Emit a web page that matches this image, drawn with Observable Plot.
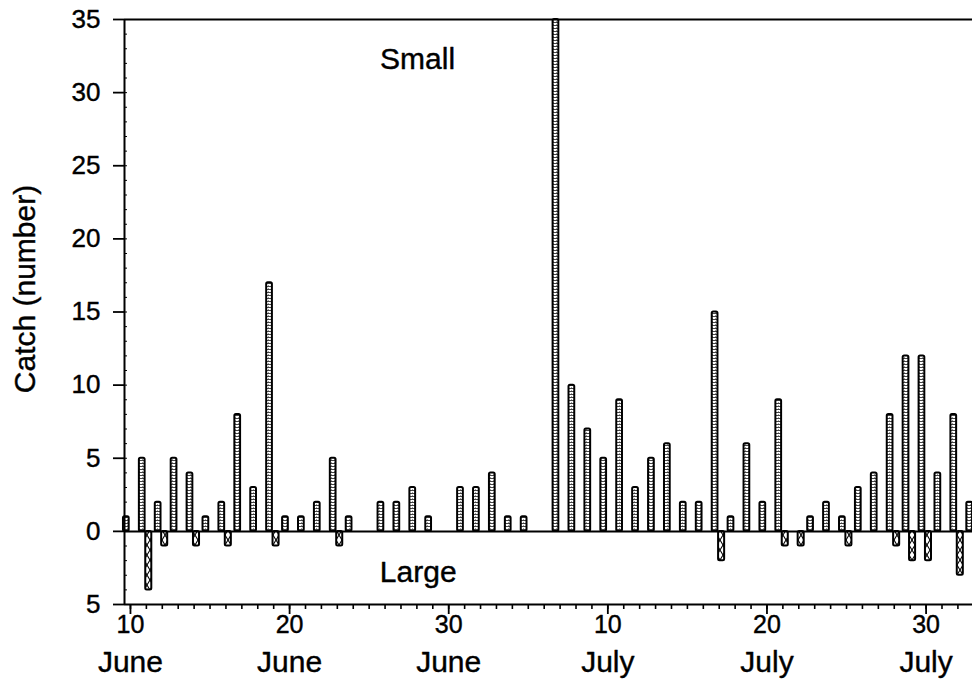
<!DOCTYPE html>
<html><head><meta charset="utf-8">
<script src="https://cdn.jsdelivr.net/npm/d3@7"></script>
<script src="https://cdn.jsdelivr.net/npm/@observablehq/plot@0.6"></script>
<style>html,body{margin:0;padding:0;background:#fff}svg{display:block}</style>
</head><body><div id="chart"></div>
<script>
// Small fish catch (bars upward)
const smallDates = ["1990-06-10","1990-06-11","1990-06-12","1990-06-13","1990-06-14","1990-06-15","1990-06-16","1990-06-17","1990-06-18","1990-06-19","1990-06-20","1990-06-21","1990-06-22","1990-06-23","1990-06-24","1990-06-26","1990-06-27","1990-06-28","1990-06-29","1990-07-01","1990-07-02","1990-07-03","1990-07-04","1990-07-05","1990-07-07","1990-07-08","1990-07-09","1990-07-10","1990-07-11","1990-07-12","1990-07-13","1990-07-14","1990-07-15","1990-07-16","1990-07-17","1990-07-18","1990-07-19","1990-07-20","1990-07-21","1990-07-23","1990-07-24","1990-07-25","1990-07-26","1990-07-27","1990-07-28","1990-07-29","1990-07-30","1990-07-31","1990-08-01","1990-08-02"];
const smallCounts = [1,5,2,5,4,1,2,8,3,17,1,1,2,5,1,2,2,3,1,3,3,4,1,1,35,10,7,5,9,3,5,6,2,2,15,1,6,2,9,1,2,1,3,4,8,12,12,4,8,2];
// Large fish catch (bars downward)
const largeDates = ["1990-06-11","1990-06-12","1990-06-14","1990-06-16","1990-06-19","1990-06-23","1990-07-17","1990-07-21","1990-07-22","1990-07-25","1990-07-28","1990-07-29","1990-07-30","1990-08-01"];
const largeCounts = [4,1,1,1,1,1,2,1,1,1,1,2,2,3];
// Axis ticks
const majorTickDates = ["1990-06-10","1990-06-20","1990-06-30","1990-07-10","1990-07-20","1990-07-30"];
const yTickValues = [-5,0,5,10,15,20,25,30,35];
// Annotations
const labelTexts = ["Small","Large"];
const labelDates = ["1990-06-28T01:00Z","1990-06-28T02:00Z"];
const labelValues = [32.3,-2.8];

const DAY = 864e5;
const xStart = new Date(Date.UTC(1990,5,9,15));
const xEnd = new Date(Date.UTC(1990,7,1,22));
const small = smallDates.map((d,i)=>({date:new Date(d), count:smallCounts[i]}));
const large = largeDates.map((d,i)=>({date:new Date(d), count:largeCounts[i]}));
const labels = labelTexts.map((t,i)=>({text:t, date:new Date(labelDates[i]), value:labelValues[i]}));
const dailyTicks = d3.utcDay.range(new Date(Date.UTC(1990,5,10)), new Date(Date.UTC(1990,7,2)));
const majorTicks = majorTickDates.map(d=>new Date(d));
const ink = {fill: "#000", stroke: "#000", strokeWidth: 0.4};
const axInk = {textStroke: "#000", textStrokeWidth: 0.4};

const svg = Plot.plot({
  width: 972, height: 679,
  marginLeft: 124, marginRight: 0, marginTop: 19, marginBottom: 75,
  style: {fontFamily: "'Liberation Sans', Arial, Helvetica, sans-serif", color: "#000", background: "#fff", overflow: "visible"},
  x: {type: "utc", domain: [xStart, xEnd]},
  y: {domain: [-5, 35]},
  marks: [
    Plot.rect(small, {x1: d => new Date(+d.date - 0.44*DAY), x2: d => new Date(+d.date - 0.08*DAY), y1: 0, y2: "count",
      fill: "url(#pSmall)", stroke: "#000", strokeWidth: 2, rx: 1.5}),
    Plot.rect(large, {x1: d => new Date(+d.date - 0.04*DAY), x2: d => new Date(+d.date + 0.34*DAY), y1: 0, y2: d => -d.count,
      fill: "url(#pLarge)", stroke: "#000", strokeWidth: 2, rx: 1.5}),
    Plot.ruleY([35, 0, -5], {stroke: "#000", strokeWidth: 2}),
    Plot.ruleX([xStart], {stroke: "#000", strokeWidth: 2}),
    Plot.axisY({ticks: yTickValues, tickSize: 11, tickPadding: 13, tickFormat: d => String(Math.abs(d)), fontSize: 26, label: null, strokeWidth: 1.8, ...axInk}),
    Plot.axisY({ticks: d3.range(-5, 36), tickSize: -3, tickFormat: () => "", label: null, strokeWidth: 1}),
    Plot.axisX({ticks: dailyTicks, tickSize: 5, tickFormat: () => "", label: null, strokeWidth: 1.6}),
    Plot.axisX({ticks: majorTicks, tickSize: 10, tickPadding: 1, tickFormat: d3.utcFormat("%-d"), fontSize: 25, label: null, strokeWidth: 1.8, ...axInk}),
    Plot.axisX({ticks: majorTicks, tickSize: 0, tickPadding: 46, tickFormat: d3.utcFormat("%B"), fontSize: 30, label: null, ...axInk}),
    Plot.text(labels, {x: "date", y: "value", text: "text", fontSize: 30, ...ink}),
    Plot.text(["Catch (number)"], {frameAnchor: "left", textAnchor: "middle", rotate: -90, dx: -99, dy: -23, fontSize: 30, ...ink})
  ]
});

const defs = document.createElementNS("http://www.w3.org/2000/svg", "defs");
defs.innerHTML = `
<pattern id="pSmall" patternUnits="userSpaceOnUse" width="3" height="3">
  <rect width="3" height="3" fill="#fff"/>
  <rect y="1" width="3" height="1" fill="#444"/>
  <rect x="1" y="0" width="1" height="1" fill="#999"/>
</pattern>
<pattern id="pLarge" patternUnits="userSpaceOnUse" width="6" height="20">
  <rect width="6" height="20" fill="#fff"/>
  <path d="M0,0L6,10L0,20M6,0L0,10L6,20" stroke="#000" stroke-width="1.1" fill="none"/>
</pattern>`;
svg.insertBefore(defs, svg.firstChild);
document.getElementById("chart").appendChild(svg);
</script>
</body></html>
